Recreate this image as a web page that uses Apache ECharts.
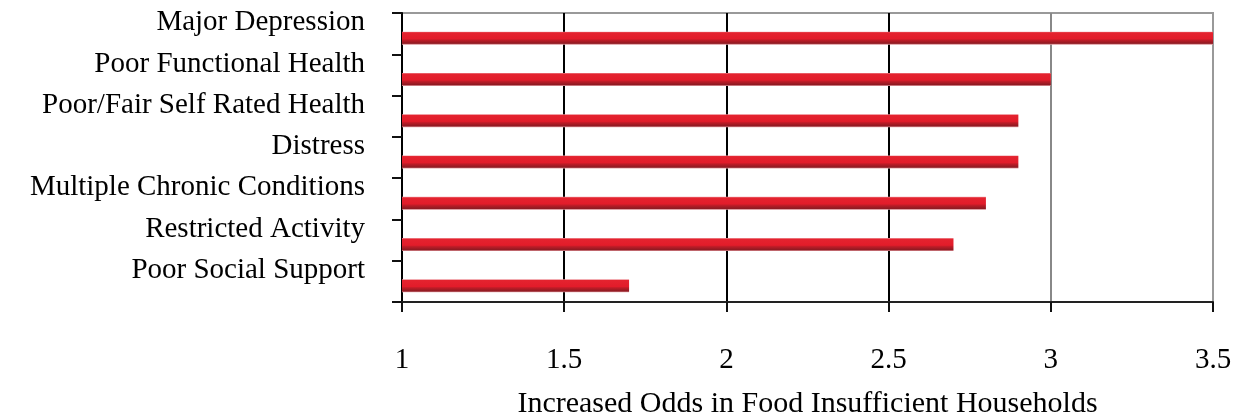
<!DOCTYPE html>
<html>
<head>
<meta charset="utf-8">
<script src="https://cdn.jsdelivr.net/npm/echarts@6/dist/echarts.min.js"></script>
<style>
html,body{margin:0;padding:0;background:#fff;}
#chart{width:1239px;height:419px;}
</style>
</head>
<body>
<div id="chart"></div>
<script>
const categories = [
  'Major Depression',
  'Poor Functional Health',
  'Poor/Fair Self Rated Health',
  'Distress',
  'Multiple Chronic Conditions',
  'Restricted Activity',
  'Poor Social Support'
];
const oddsValues = [3.5, 3.0, 2.9, 2.9, 2.8, 2.7, 1.7];
const xTicks = [1, 1.5, 2, 2.5, 3, 3.5];
const axisTitle = 'Increased Odds in Food Insufficient Households';

const FONT = '"Liberation Serif", "Times New Roman", serif';
const chart = echarts.init(document.getElementById('chart'));
const barGradient = new echarts.graphic.LinearGradient(0, 0, 0, 1, [
  {offset: 0, color: '#f0a0a6'},
  {offset: 0.08, color: '#e4232f'},
  {offset: 0.55, color: '#e21c2a'},
  {offset: 0.65, color: '#c01c27'},
  {offset: 0.9, color: '#8e1a22'},
  {offset: 1, color: '#e6a3a8'}
]);

chart.setOption({
  animation: false,
  grid: {
    left: 402, right: 26, top: 13, bottom: 117,
    outerBoundsMode: 'none', containLabel: false,
    show: true, borderColor: '#999', borderWidth: 2, backgroundColor: 'transparent'
  },
  xAxis: {
    type: 'value',
    min: xTicks[0],
    max: xTicks[xTicks.length - 1],
    interval: 0.5,
    name: axisTitle,
    nameLocation: 'middle',
    nameGap: 87,
    nameTextStyle: {fontFamily: FONT, fontSize: 30, color: '#000'},
    axisLine: {show: true, lineStyle: {color: '#222', width: 2}},
    axisTick: {show: true, length: 10, lineStyle: {color: '#111', width: 2}},
    axisLabel: {margin: 44, fontFamily: FONT, fontSize: 29, color: '#000'},
    splitLine: {show: true, lineStyle: {color: ['#000', '#000', '#000', '#000', '#888', '#999'], width: 2}}
  },
  yAxis: {
    type: 'category',
    inverse: true,
    data: categories,
    axisLine: {show: true, lineStyle: {color: '#000', width: 2}},
    axisTick: {show: true, length: 10, interval: 0, lineStyle: {color: '#111', width: 2}},
    axisLabel: {
      margin: 37, fontFamily: FONT, fontSize: 29, color: '#000',
      verticalAlign: 'bottom', lineHeight: 22, interval: 0
    },
    splitLine: {show: false}
  },
  series: [
    {
      name: 'pad',
      type: 'bar',
      barWidth: 1,
      barGap: '800%',
      data: categories.map(() => '-'),
      silent: true
    },
    {
      name: 'Odds',
      type: 'bar',
      barWidth: 13,
      barGap: '800%',
      data: oddsValues,
      itemStyle: {color: barGradient},
      clip: true
    }
  ]
});
</script>
</body>
</html>
